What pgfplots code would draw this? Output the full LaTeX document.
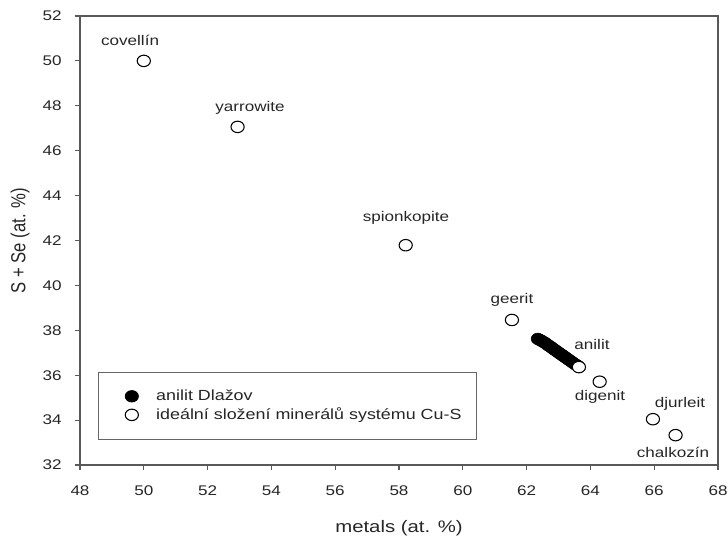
\documentclass[border=0pt]{standalone}
\usepackage{pgfplots}
\pgfplotsset{compat=1.18}
\usepackage{fontspec}
\setmainfont{Liberation Sans}
\begin{document}
\begin{tikzpicture}[x=0.75pt,y=0.75pt]
\begin{axis}[
  at={(0,0)}, anchor=south west,
  scale only axis, width=478.5pt, height=336.75pt,
  xmin=48, xmax=68, ymin=32, ymax=52,
  xtick={48,50,...,68}, ytick={32,34,...,52},
  axis line style={black!65, line width=0.8pt},
  tick style={black!65, line width=0.8pt},
  tick align=outside, major tick length=4pt,
  xtick pos=bottom, ytick pos=left,
  /pgf/number format/assume math mode=true,
  tick label style={font=\fontsize{10.5}{12}\selectfont, text=black!85, xscale=1.22},
  xticklabel style={yshift=-8pt},
  yticklabel style={xshift=-4.5pt},
  xlabel={metals (at. \%)}, ylabel={S + Se (at. \%)},
  label style={font=\fontsize{12.5}{14}\selectfont, text=black!85},
  xlabel style={at={(axis description cs:0.5,-0.14)}, anchor=center, xscale=1.22},
  ylabel style={at={(axis description cs:-0.094,0.5)}, anchor=center, yscale=1.22},
  legend style={at={(0.028,0.056)}, anchor=south west, draw=black!60, line width=0.6pt,
    font=\fontsize{11}{15}\selectfont, text=black!85, inner xsep=8.5pt, inner ysep=11.25pt,
    row sep=0pt, legend cell align=left, nodes={xscale=1.22},
    /tikz/every odd column/.append style={column sep=10.5pt}},
  legend image code/.code={\path[draw=none, fill=none] (0pt,0pt) rectangle (22pt,0pt);
    \draw[#1, xscale=1.15] (14.5pt,0cm) circle (4.3pt);},
  clip=false,
]
\addplot[only marks, mark=*, mark size=4.3pt, draw=black, fill=black, mark options={xscale=1.15}] coordinates {
(62.35,37.62) (62.40,37.58) (62.45,37.55) (62.50,37.50) (62.55,37.46)
(62.60,37.42) (62.65,37.36) (62.70,37.31) (62.75,37.27) (62.80,37.21)
(62.85,37.16) (62.90,37.11) (62.95,37.06) (63.00,37.01) (63.05,36.96)
(63.10,36.91) (63.15,36.86) (63.20,36.81) (63.25,36.76) (63.30,36.71)
(63.35,36.66) (63.40,36.61) (63.45,36.56) (63.50,36.51) (63.55,36.46)
(63.60,36.42)
};
\addlegendentry{anilit Dlažov}
\addplot[only marks, mark=*, mark size=4.3pt, draw=black, fill=white, line width=0.8pt, mark options={xscale=1.15}] coordinates {
(50.00,50.00) (52.94,47.06) (58.21,41.79) (61.54,38.46) (63.64,36.36)
(64.29,35.71) (65.96,34.04) (66.67,33.33)
};
\addlegendentry{ideální složení minerálů systému Cu-S}
\begin{scope}[every node/.style={font=\fontsize{10.5}{12}\selectfont, text=black!85, xscale=1.22}]
\node at (axis cs:49.57,50.93) {covellín};
\node at (axis cs:53.33,47.90) {yarrowite};
\node at (axis cs:58.22,43.00) {spionkopite};
\node at (axis cs:61.54,39.35) {geerit};
\node at (axis cs:64.05,37.35) {anilit};
\node at (axis cs:64.30,35.03) {digenit};
\node at (axis cs:66.81,34.72) {djurleit};
\node at (axis cs:66.59,32.58) {chalkozín};
\end{scope}
\end{axis}
\pgfresetboundingbox
\path (-80,-73) rectangle (648,465);
\end{tikzpicture}
\end{document}
